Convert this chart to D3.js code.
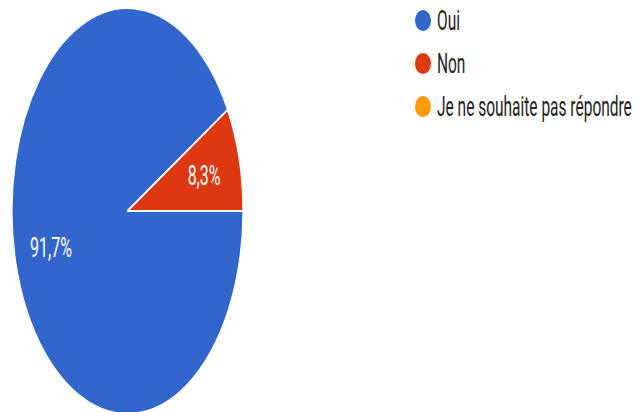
<!DOCTYPE html>
<html>
<head>
<meta charset="utf-8">
<script src="https://cdn.jsdelivr.net/npm/d3@7"></script>
<style>
  html, body { margin: 0; padding: 0; background: #fff; }
  svg { display: block; font-family: Roboto, Arial, sans-serif; }
</style>
</head>
<body>
<div id="chart"></div>
<script>
// answers and share of responses (%)
const categories = ['Oui', 'Non', 'Je ne souhaite pas répondre'];
const values = [91.7, 8.3, 0];
const colors = ['#3366cc', '#dc3912', '#ff9900'];

const width = 639, height = 412;
// the picture is stretched vertically, so draw in a squashed frame
const stretch = 1.757;
const radius = 115.5;
const cx = 127.5, cy = 211 / stretch;

const svg = d3.select('#chart').append('svg')
  .attr('width', width)
  .attr('height', height);

const g = svg.append('g')
  .attr('transform', `scale(1, ${stretch})`);

const pie = d3.pie()
  .sort(null)
  .value(d => d.value)
  .startAngle(Math.PI / 2)
  .endAngle(Math.PI / 2 + 2 * Math.PI);

const data = categories.map((c, i) => ({ name: c, value: values[i], color: colors[i] }));
const arcs = pie(data).filter(d => d.data.value > 0);

const arc = d3.arc().innerRadius(0).outerRadius(radius);
const labelArc = d3.arc().innerRadius(radius * 0.686).outerRadius(radius * 0.686);

const pieG = g.append('g').attr('transform', `translate(${cx}, ${cy})`);

pieG.selectAll('path')
  .data(arcs)
  .join('path')
  .attr('d', arc)
  .attr('fill', d => d.data.color)
  .attr('stroke', '#fff')
  .attr('stroke-width', 1.2)
  .attr('stroke-linejoin', 'round');

const fmt = v => d3.format('.1f')(v).replace('.', ',') + '%';

pieG.selectAll('text')
  .data(arcs)
  .join('text')
  .attr('transform', d => `translate(${labelArc.centroid(d)})`)
  .attr('text-anchor', 'middle')
  .attr('dy', '0.36em')
  .attr('font-size', 16)
  .attr('fill', '#fff')
  .text(d => fmt(d.data.value));

// legend
const legend = g.append('g').attr('transform', `translate(423, ${20.5 / stretch})`);
const rows = legend.selectAll('g')
  .data(data)
  .join('g')
  .attr('transform', (d, i) => `translate(0, ${i * 43 / stretch})`);

rows.append('ellipse')
  .attr('rx', 8)
  .attr('ry', 6)
  .attr('fill', d => d.color);

rows.append('text')
  .attr('x', 14)
  .attr('dy', '0.36em')
  .attr('font-size', 15.5)
  .attr('fill', '#222')
  .text(d => d.name);
</script>
</body>
</html>
